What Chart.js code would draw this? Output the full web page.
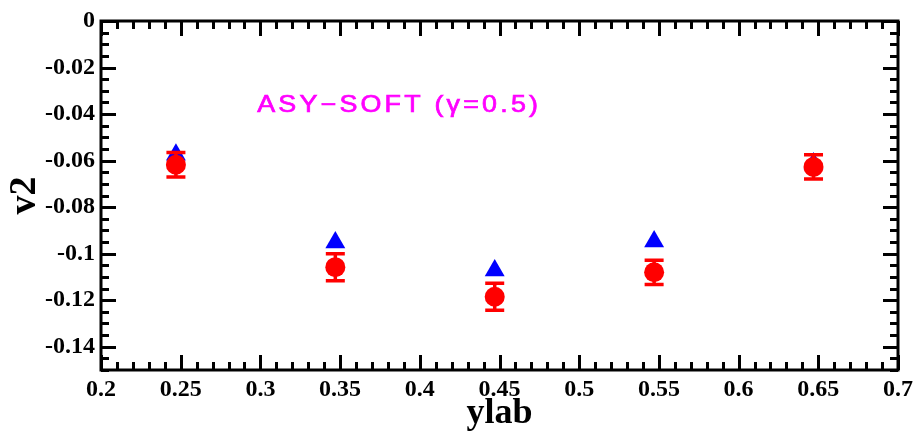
<!DOCTYPE html>
<html>
<head>
<meta charset="utf-8">
<script src="https://cdn.jsdelivr.net/npm/chart.js@4.4.1/dist/chart.umd.min.js"></script>
<style>
  html, body { margin: 0; padding: 0; background: #ffffff; }
  #c { display: block; }
</style>
</head>
<body>
<canvas id="c" width="918" height="432"></canvas>
<script>
// Rapidity bins (ylab) and elliptic flow v2 for the two calculations
const ylab = [0.247, 0.347, 0.447, 0.547, 0.647];
const v2Triangles = [-0.0575, -0.0952, -0.1072, -0.0948, -0.0612];
const v2Circles = [-0.0618, -0.1058, -0.1185, -0.1080, -0.0627];
const v2CircleErr = [0.0053, 0.0058, 0.0058, 0.0052, 0.0052];

const xTickLabels = ['0.2', '0.25', '0.3', '0.35', '0.4', '0.45', '0.5', '0.55', '0.6', '0.65', '0.7'];
const yTickLabels = ['0', '-0.02', '-0.04', '-0.06', '-0.08', '-0.1', '-0.12', '-0.14'];

const annotationText = 'ASY\u2212SOFT (\u03b3=0.5)';
const annotationPos = { x: 0.298, y: -0.039 };

const labelFont = { family: "'Liberation Serif', 'Times New Roman', serif", weight: 'bold', size: 24 };
const xTitleFont = { family: "'Liberation Serif', 'Times New Roman', serif", weight: 'bold', size: 36 };
const yTitleFont = { family: "'Liberation Serif', 'Times New Roman', serif", weight: 'bold', size: 38 };

// Error bars on the circle series, drawn between the triangles and the circles
const errorBars = {
  id: 'errorBars',
  afterDatasetDraw(chart, args) {
    if (args.index !== 1) return;
    const { ctx, scales: { x, y } } = chart;
    ctx.save();
    ctx.strokeStyle = '#ff0000';
    ctx.lineWidth = 3.5;
    const cap = 9.5;
    ylab.forEach((xv, i) => {
      const px = x.getPixelForValue(xv);
      const top = y.getPixelForValue(v2Circles[i] + v2CircleErr[i]);
      const bot = y.getPixelForValue(v2Circles[i] - v2CircleErr[i]);
      ctx.beginPath();
      ctx.moveTo(px, top); ctx.lineTo(px, bot);
      ctx.moveTo(px - cap, top); ctx.lineTo(px + cap, top);
      ctx.moveTo(px - cap, bot); ctx.lineTo(px + cap, bot);
      ctx.stroke();
    });
    ctx.restore();
  }
};

// Frame with inward major/minor ticks on all four sides
const frame = {
  id: 'frame',
  afterDraw(chart) {
    const { ctx, chartArea: a, scales: { x, y } } = chart;
    ctx.save();
    ctx.strokeStyle = '#000';
    ctx.lineWidth = 3;
    ctx.lineCap = 'butt';
    const major = 15, minor = 8;
    ctx.beginPath();
    const xMajor = xTickLabels.map(parseFloat);
    for (let k = 0; k <= 50; k++) {
      const v = 0.2 + k * 0.01;
      const isMajor = xMajor.some(m => Math.abs(m - v) < 1e-6);
      const len = isMajor ? major : minor;
      const px = Math.round(x.getPixelForValue(v)) + 0.5;
      ctx.moveTo(px, a.bottom); ctx.lineTo(px, a.bottom - len);
      ctx.moveTo(px, a.top); ctx.lineTo(px, a.top + len);
    }
    const yMajor = yTickLabels.map(parseFloat);
    for (let k = 0; k <= 30; k++) {
      const v = -k * 0.005;
      const isMajor = yMajor.some(m => Math.abs(m - v) < 1e-6);
      const len = isMajor ? major : minor;
      const py = Math.round(y.getPixelForValue(v)) + 0.5;
      ctx.moveTo(a.left, py); ctx.lineTo(a.left + len, py);
      ctx.moveTo(a.right, py); ctx.lineTo(a.right - len, py);
    }
    ctx.stroke();
    ctx.strokeRect(a.left, a.top, a.right - a.left, a.bottom - a.top);
    ctx.restore();
  }
};

// Text label inside the plot
const annotation = {
  id: 'annotation',
  afterDatasetsDraw(chart) {
    const { ctx, scales: { x, y } } = chart;
    ctx.save();
    ctx.fillStyle = '#ff00ff';
    ctx.strokeStyle = '#ff00ff';
    ctx.lineWidth = 0.7;
    ctx.font = "24px 'Liberation Sans', Arial, sans-serif";
    ctx.textBaseline = 'alphabetic';
    ctx.textAlign = 'left';
    const px = x.getPixelForValue(annotationPos.x);
    const py = y.getPixelForValue(annotationPos.y);
    const sx = 1.12;
    const w0 = ctx.measureText(annotationText).width;
    const n = [...annotationText].length;
    const spacing = Math.max(0, (284 / sx - w0) / n);
    ctx.letterSpacing = spacing.toFixed(2) + 'px';
    ctx.translate(px, py);
    ctx.scale(sx, 1);
    ctx.fillText(annotationText, 0, 0);
    ctx.strokeText(annotationText, 0, 0);
    ctx.restore();
  }
};

new Chart(document.getElementById('c'), {
  type: 'scatter',
  data: {
    datasets: [
      {
        label: 'circles',
        data: ylab.map((xv, i) => ({ x: xv, y: v2Circles[i] })),
        pointStyle: 'circle',
        pointRadius: 10,
        pointBackgroundColor: '#ff0000',
        pointBorderColor: '#ff0000',
        pointBorderWidth: 0,
        showLine: false
      },
      {
        label: 'triangles',
        data: ylab.map((xv, i) => ({ x: xv, y: v2Triangles[i] })),
        pointStyle: 'triangle',
        pointRadius: 11.5,
        pointBackgroundColor: '#0000ff',
        pointBorderColor: '#0000ff',
        pointBorderWidth: 0,
        showLine: false
      }
    ]
  },
  options: {
    responsive: false,
    animation: false,
    devicePixelRatio: 1,
    layout: { padding: { top: 21, right: 17, left: 0, bottom: 0 } },
    plugins: { legend: { display: false }, tooltip: { enabled: false } },
    scales: {
      x: {
        type: 'linear',
        min: 0.2, max: 0.7,
        border: { display: false },
        grid: { display: false, drawTicks: false },
        afterBuildTicks(s) { s.ticks = xTickLabels.map(t => ({ value: parseFloat(t) })); },
        afterFit(s) { s.height = 62; },
        ticks: {
          autoSkip: false, maxRotation: 0, padding: 5,
          color: '#000', font: labelFont,
          callback: (v, i) => xTickLabels[i]
        },
        title: { display: true, text: 'ylab', color: '#000', font: xTitleFont, padding: { top: 0, bottom: -3 } }
      },
      y: {
        type: 'linear',
        min: -0.15, max: 0,
        border: { display: false },
        grid: { display: false, drawTicks: false },
        afterBuildTicks(s) { s.ticks = yTickLabels.map(t => ({ value: parseFloat(t) })); },
        afterFit(s) { s.width = 101; },
        ticks: {
          autoSkip: false, padding: 6,
          color: '#000', font: labelFont,
          callback: (v, i) => yTickLabels[i]
        },
        title: { display: true, text: 'v2', color: '#000', font: yTitleFont, padding: { top: 2, bottom: 0 } }
      }
    }
  },
  plugins: [errorBars, annotation, frame]
});
</script>
</body>
</html>
